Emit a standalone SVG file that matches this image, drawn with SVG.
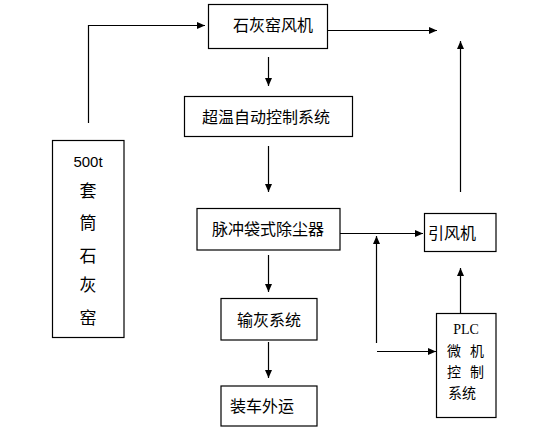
<svg xmlns="http://www.w3.org/2000/svg" width="547" height="433" viewBox="0 0 547 433">
<style>
.box{fill:#fff;stroke:#000;stroke-width:1.2}
.t{font-family:"Noto Sans CJK SC","Noto Sans CJK JP",sans-serif;font-size:16px;fill:#000;text-anchor:middle}
.p{font-family:"Noto Sans CJK SC","Noto Sans CJK JP",sans-serif;font-size:14px;fill:#000;text-anchor:middle}
.l{fill:none;stroke:#000;stroke-width:1.2}
</style>
<defs>
<marker id="ah" markerUnits="userSpaceOnUse" markerWidth="9" markerHeight="8" refX="8" refY="3.5" orient="auto">
<path d="M0,0 L8,3.5 L0,7 z" fill="#000"/>
</marker>
</defs>
<rect width="547" height="433" fill="#fff"/>
<g id="connectors">
<polyline class="l" points="88.5,123 88.5,25.5 205,25.5" marker-end="url(#ah)"/>
<line class="l" x1="328" y1="30.5" x2="437" y2="30.5" marker-end="url(#ah)"/>
<line class="l" x1="460.5" y1="192" x2="460.5" y2="41" marker-end="url(#ah)"/>
<line class="l" x1="268.5" y1="57" x2="268.5" y2="86" marker-end="url(#ah)"/>
<line class="l" x1="268.5" y1="146" x2="268.5" y2="192" marker-end="url(#ah)"/>
<line class="l" x1="268.5" y1="255" x2="268.5" y2="292" marker-end="url(#ah)"/>
<line class="l" x1="268.5" y1="342" x2="268.5" y2="378" marker-end="url(#ah)"/>
<line class="l" x1="340" y1="233.5" x2="423" y2="233.5" marker-end="url(#ah)"/>
<line class="l" x1="376.5" y1="343" x2="376.5" y2="236" marker-end="url(#ah)"/>
<line class="l" x1="377" y1="351.5" x2="436" y2="351.5" marker-end="url(#ah)"/>
<line class="l" x1="460.5" y1="313" x2="460.5" y2="268" marker-end="url(#ah)"/>
</g>
<g id="kiln-fan">
<rect class="box" x="208.5" y="4.5" width="119" height="44"/>
<text class="t" x="273" y="31">石灰窑风机</text>
</g>
<g id="temp-control">
<rect class="box" x="184.5" y="96.5" width="168" height="40"/>
<text class="t" x="266" y="122.5">超温自动控制系统</text>
</g>
<g id="bag-filter">
<rect class="box" x="197" y="208.5" width="143" height="41.5"/>
<text class="t" x="268" y="235">脉冲袋式除尘器</text>
</g>
<g id="ash-conveying">
<rect class="box" x="221" y="298.5" width="96" height="41.5"/>
<text class="t" x="269" y="326">输灰系统</text>
</g>
<g id="truck-loading">
<rect class="box" x="221" y="386" width="96" height="40"/>
<text class="t" x="262" y="412">装车外运</text>
</g>
<g id="kiln">
<rect class="box" x="52.5" y="140.5" width="71.5" height="197"/>
<text x="88" y="167" style="font-family:'Liberation Sans',sans-serif;font-size:15px;text-anchor:middle">500t</text>
<text class="t" x="88" y="197" style="font-size:17px">套</text>
<text class="t" x="88" y="229" style="font-size:17px">筒</text>
<text class="t" x="88" y="262" style="font-size:17px">石</text>
<text class="t" x="88" y="291" style="font-size:17px">灰</text>
<text class="t" x="88" y="324" style="font-size:17px">窑</text>
</g>
<g id="induced-fan">
<rect class="box" x="424.5" y="213.5" width="71.5" height="38"/>
<text class="t" x="452" y="239">引风机</text>
</g>
<g id="plc">
<rect class="box" x="436.5" y="313.5" width="59.5" height="104"/>
<text x="466" y="334" style="font-family:'Liberation Serif',serif;font-size:14px;text-anchor:middle">PLC</text>
<text class="p" x="454" y="355.5">微</text>
<text class="p" x="477" y="355.5">机</text>
<text class="p" x="454" y="376.5">控</text>
<text class="p" x="477" y="376.5">制</text>
<text class="p" x="462" y="397.5">系统</text>
</g>
</svg>
